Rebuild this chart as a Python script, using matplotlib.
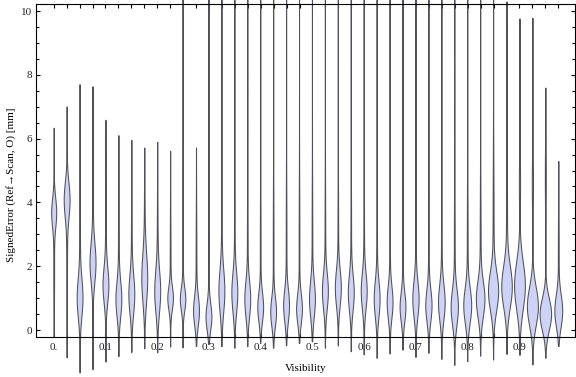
import numpy as np
import matplotlib.pyplot as plt
from matplotlib.ticker import MultipleLocator, FixedLocator

plt.rcParams['font.family'] = ['Liberation Serif', 'DejaVu Serif']

# visibility bins (one violin each)
visibility = [i * 0.025 for i in range(40)]

# extent of each distribution (bottom and top of the violin, mm)
err_min = [-0.22, -0.86, -1.33, -1.23, -0.99, -0.82, -0.69, -0.57, -0.70, -0.52,
           -0.56, -0.50, -0.45, -0.52, -0.57, -0.52, -0.42, -0.57, -0.49, -0.42,
           -0.37, -0.57, -0.50, -0.68, -0.78, -0.89, -0.75, -0.63, -0.86, -0.73,
           -0.92, -1.11, -0.99, -0.82, -0.94, -0.75, -0.78, -1.08, -0.87, -0.50]
err_max = [6.34, 7.01, 7.71, 7.64, 6.59, 6.11, 5.96, 5.72, 5.90, 5.62,
           14.0, 5.72, 14.0, 14.0, 14.0, 14.0, 14.0, 14.0, 14.0, 14.0,
           14.0, 14.0, 14.0, 14.0, 14.0, 14.0, 14.0, 14.0, 14.0, 14.0,
           14.0, 14.0, 14.0, 14.0, 14.0, 10.3, 9.77, 9.79, 7.60, 5.30]

# main peak of each distribution: location, spread, density at the peak (1/mm)
peak = [3.7, 4.1, 1.0, 2.1, 1.4, 0.95, 1.1, 1.6, 1.2, 1.0,
        0.95, 0.6, 0.4, 1.2, 1.15, 0.95, 0.7, 0.55, 0.75, 0.65,
        0.95, 1.2, 1.3, 1.15, 1.2, 0.95, 0.85, 0.7, 0.95, 0.75,
        0.85, 0.7, 0.75, 0.95, 1.2, 1.35, 1.4, 0.75, 0.5, 0.6]
peak_sd = [0.45, 0.55, 0.6, 0.6, 0.55, 0.55, 0.6, 0.75, 0.65, 0.35,
           0.35, 0.45, 0.4, 0.65, 0.6, 0.55, 0.45, 0.45, 0.5, 0.45,
           0.55, 0.55, 0.55, 0.55, 0.55, 0.55, 0.5, 0.45, 0.55, 0.5,
           0.55, 0.55, 0.55, 0.55, 0.6, 0.65, 0.75, 0.6, 0.5, 0.5]
peak_density = [0.46, 0.54, 0.54, 0.54, 0.54, 0.54, 0.54, 0.54, 0.54, 0.50,
                0.50, 0.54, 0.54, 0.54, 0.54, 0.54, 0.54, 0.54, 0.54, 0.54,
                0.54, 0.54, 0.54, 0.54, 0.54, 0.54, 0.54, 0.54, 0.58, 0.58,
                0.62, 0.68, 0.74, 0.80, 0.95, 1.00, 1.08, 1.10, 1.15, 0.76]

# upper (tail) component: location, spread, density
tail_mode = [2.0, 2.5, 3.0, 3.5, 3.0, 2.5, 2.5, 3.0, 2.5, 2.0,
             2.5, 2.0, 2.0, 2.5, 2.5, 2.5, 2.5, 2.5, 2.5, 2.5,
             2.5, 2.5, 2.5, 2.5, 2.5, 2.5, 2.5, 2.5, 2.5, 2.5,
             2.5, 2.5, 2.5, 2.5, 3.0, 3.5, 4.6, 4.6, 4.8, 2.5]
tail_sd = [1.5, 1.5, 1.8, 1.8, 1.6, 1.5, 1.5, 1.5, 1.5, 1.5,
           1.8, 1.5, 1.8, 1.8, 1.8, 1.8, 1.8, 1.8, 1.8, 1.8,
           1.8, 1.8, 1.8, 1.8, 1.8, 1.8, 1.8, 1.8, 1.8, 1.8,
           1.8, 1.8, 1.8, 1.8, 2.0, 2.0, 0.8, 0.8, 1.0, 1.2]
tail_density = [0.08, 0.08, 0.08, 0.08, 0.08, 0.08, 0.08, 0.08, 0.08, 0.08,
                0.07, 0.08, 0.07, 0.07, 0.07, 0.07, 0.07, 0.07, 0.07, 0.07,
                0.07, 0.07, 0.07, 0.07, 0.07, 0.07, 0.07, 0.07, 0.07, 0.07,
                0.07, 0.08, 0.08, 0.09, 0.10, 0.10, 0.12, 0.12, 0.10, 0.08]


fig = plt.figure(figsize=(5.76, 3.77), dpi=100)
ax = fig.add_axes([36 / 576, 40 / 377, 539 / 576, 333 / 377])

scale = 5.0 / 517.5   # half-width (x units) per unit density
for i, xv in enumerate(visibility):
    y = np.linspace(err_min[i], err_max[i], 800)
    d = (peak_density[i] * np.exp(-0.5 * ((y - peak[i]) / peak_sd[i]) ** 2)
         + tail_density[i] * np.exp(-0.5 * ((y - tail_mode[i]) / tail_sd[i]) ** 2))
    half = d * scale
    ax.fill_betweenx(y, xv - half, xv + half, facecolor='#cdd3f6',
                     edgecolor='#505058', linewidth=0.75, clip_on=False, zorder=2)

ax.set_xlim(-0.0342, 1.0073)
ax.set_ylim(-0.219, 10.22)

ax.xaxis.set_major_locator(FixedLocator([0.0, 0.1, 0.2, 0.3, 0.4, 0.5, 0.6, 0.7, 0.8, 0.9]))
ax.set_xticklabels(['0.', '0.1', '0.2', '0.3', '0.4', '0.5', '0.6', '0.7', '0.8', '0.9'])
ax.xaxis.set_minor_locator(FixedLocator(visibility))
ax.yaxis.set_major_locator(MultipleLocator(2))
ax.yaxis.set_minor_locator(MultipleLocator(0.5))

ax.tick_params(which='both', direction='in', top=True, right=True,
               labelsize=8, labelcolor='#222222', width=0.8)
ax.tick_params(axis='x', which='major', length=3.0, pad=4)
ax.tick_params(axis='x', which='minor', length=3.0)
ax.tick_params(axis='y', which='major', length=3.2, pad=2.5)
ax.tick_params(axis='y', which='minor', length=1.9)
for sp in ax.spines.values():
    sp.set_linewidth(0.8)

ax.set_xlabel('Visibility', fontsize=8)
ax.set_ylabel('SignedError (Ref→Scan, O) [mm]', fontsize=8)
ax.xaxis.set_label_coords(0.5, -0.08)
ax.yaxis.set_label_coords(-0.037, 0.456)

fig.savefig('out.png', dpi=100)
